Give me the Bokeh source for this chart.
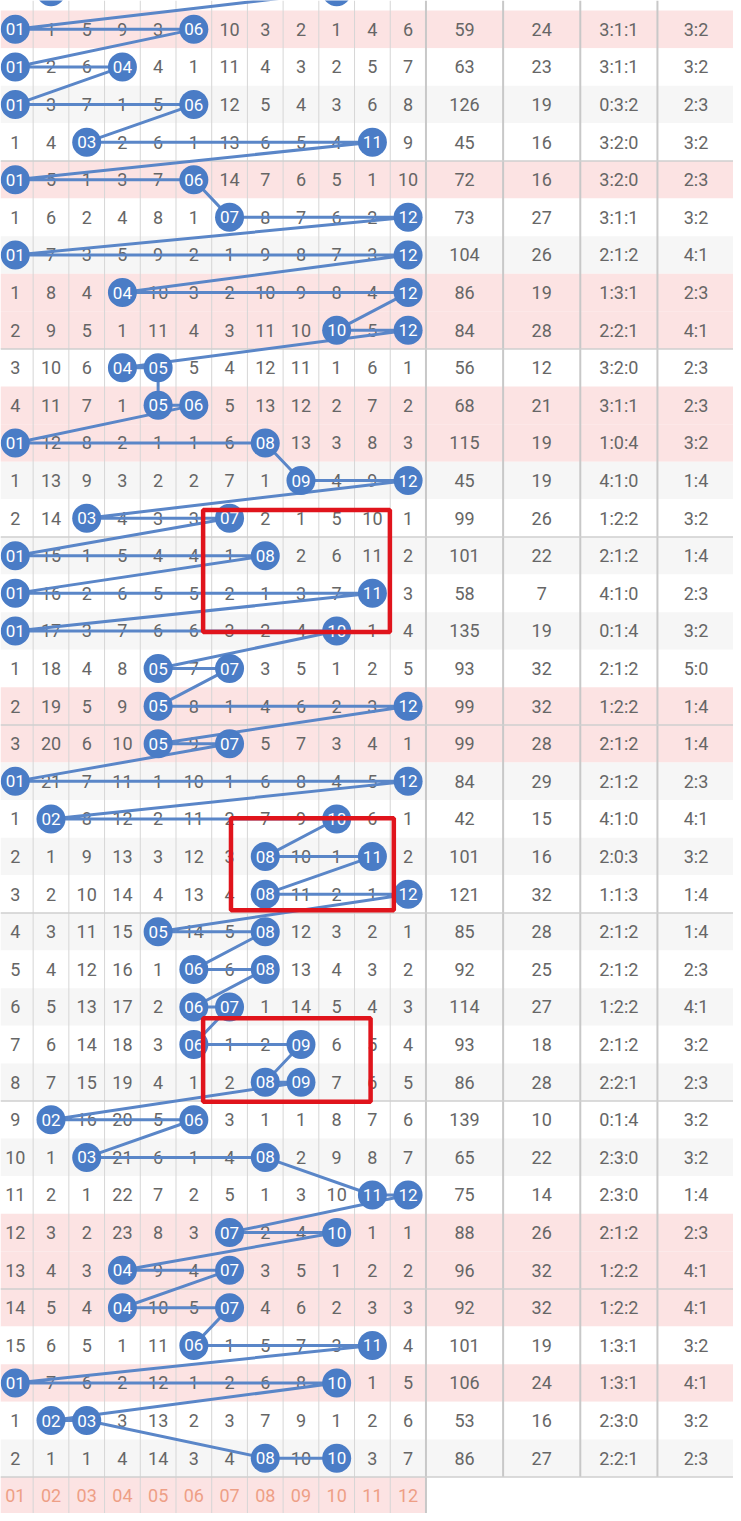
from bokeh.plotting import figure
from bokeh.models import Range1d
from bokeh.embed import file_html
from bokeh.resources import INLINE
from bokeh.core.properties import value

# ---------------- data ----------------
numbers = ["01", "02", "03", "04", "05", "06", "07", "08", "09", "10", "11", "12"]
# omission counts per row (0 = number drawn in that row)
omissions = [
    [0, 1, 5, 9, 3, 0, 10, 3, 2, 1, 4, 6],
    [0, 2, 6, 0, 4, 1, 11, 4, 3, 2, 5, 7],
    [0, 3, 7, 1, 5, 0, 12, 5, 4, 3, 6, 8],
    [1, 4, 0, 2, 6, 1, 13, 6, 5, 4, 0, 9],
    [0, 5, 1, 3, 7, 0, 14, 7, 6, 5, 1, 10],
    [1, 6, 2, 4, 8, 1, 0, 8, 7, 6, 2, 0],
    [0, 7, 3, 5, 9, 2, 1, 9, 8, 7, 3, 0],
    [1, 8, 4, 0, 10, 3, 2, 10, 9, 8, 4, 0],
    [2, 9, 5, 1, 11, 4, 3, 11, 10, 0, 5, 0],
    [3, 10, 6, 0, 0, 5, 4, 12, 11, 1, 6, 1],
    [4, 11, 7, 1, 0, 0, 5, 13, 12, 2, 7, 2],
    [0, 12, 8, 2, 1, 1, 6, 0, 13, 3, 8, 3],
    [1, 13, 9, 3, 2, 2, 7, 1, 0, 4, 9, 0],
    [2, 14, 0, 4, 3, 3, 0, 2, 1, 5, 10, 1],
    [0, 15, 1, 5, 4, 4, 1, 0, 2, 6, 11, 2],
    [0, 16, 2, 6, 5, 5, 2, 1, 3, 7, 0, 3],
    [0, 17, 3, 7, 6, 6, 3, 2, 4, 0, 1, 4],
    [1, 18, 4, 8, 0, 7, 0, 3, 5, 1, 2, 5],
    [2, 19, 5, 9, 0, 8, 1, 4, 6, 2, 3, 0],
    [3, 20, 6, 10, 0, 9, 0, 5, 7, 3, 4, 1],
    [0, 21, 7, 11, 1, 10, 1, 6, 8, 4, 5, 0],
    [1, 0, 8, 12, 2, 11, 2, 7, 9, 0, 6, 1],
    [2, 1, 9, 13, 3, 12, 3, 0, 10, 1, 0, 2],
    [3, 2, 10, 14, 4, 13, 4, 0, 11, 2, 1, 0],
    [4, 3, 11, 15, 0, 14, 5, 0, 12, 3, 2, 1],
    [5, 4, 12, 16, 1, 0, 6, 0, 13, 4, 3, 2],
    [6, 5, 13, 17, 2, 0, 0, 1, 14, 5, 4, 3],
    [7, 6, 14, 18, 3, 0, 1, 2, 0, 6, 5, 4],
    [8, 7, 15, 19, 4, 1, 2, 0, 0, 7, 6, 5],
    [9, 0, 16, 20, 5, 0, 3, 1, 1, 8, 7, 6],
    [10, 1, 0, 21, 6, 1, 4, 0, 2, 9, 8, 7],
    [11, 2, 1, 22, 7, 2, 5, 1, 3, 10, 0, 0],
    [12, 3, 2, 23, 8, 3, 0, 2, 4, 0, 1, 1],
    [13, 4, 3, 0, 9, 4, 0, 3, 5, 1, 2, 2],
    [14, 5, 4, 0, 10, 5, 0, 4, 6, 2, 3, 3],
    [15, 6, 5, 1, 11, 0, 1, 5, 7, 3, 0, 4],
    [0, 7, 6, 2, 12, 1, 2, 6, 8, 0, 1, 5],
    [1, 0, 0, 3, 13, 2, 3, 7, 9, 1, 2, 6],
    [2, 1, 1, 4, 14, 3, 4, 0, 10, 0, 3, 7],
]
prev_row_hits = [2, 10]   # partially visible row above the first full row
sums = [59, 63, 126, 45, 72, 73, 104, 86, 84, 56, 68, 115, 45, 99, 101, 58, 135, 93, 99, 99,
        84, 42, 101, 121, 85, 92, 114, 93, 86, 139, 65, 75, 88, 96, 92, 101, 106, 53, 86]
spans = [24, 23, 19, 16, 16, 27, 26, 19, 28, 12, 21, 19, 19, 26, 22, 7, 19, 32, 32, 28,
         29, 15, 16, 32, 28, 25, 27, 18, 28, 10, 22, 14, 26, 32, 32, 19, 24, 16, 27]
ratio_a = ["3:1:1", "3:1:1", "0:3:2", "3:2:0", "3:2:0", "3:1:1", "2:1:2", "1:3:1", "2:2:1", "3:2:0",
           "3:1:1", "1:0:4", "4:1:0", "1:2:2", "2:1:2", "4:1:0", "0:1:4", "2:1:2", "1:2:2", "2:1:2",
           "2:1:2", "4:1:0", "2:0:3", "1:1:3", "2:1:2", "2:1:2", "1:2:2", "2:1:2", "2:2:1", "0:1:4",
           "2:3:0", "2:3:0", "2:1:2", "1:2:2", "1:2:2", "1:3:1", "1:3:1", "2:3:0", "2:2:1"]
ratio_b = ["3:2", "3:2", "2:3", "3:2", "2:3", "3:2", "4:1", "2:3", "4:1", "2:3",
           "2:3", "3:2", "1:4", "3:2", "1:4", "2:3", "3:2", "5:0", "1:4", "1:4",
           "2:3", "4:1", "3:2", "1:4", "1:4", "2:3", "4:1", "3:2", "2:3", "3:2",
           "3:2", "1:4", "2:3", "4:1", "4:1", "3:2", "4:1", "3:2", "2:3"]
pink_rows = [1, 5, 8, 9, 11, 12, 19, 20, 33, 34, 35, 37]
# highlight boxes: (left col edge, right col edge, top row, bottom row) in cell units
boxes = [(5.76, 10.99, 13.78, 17.03), (6.54, 11.1, 21.98, 24.43), (5.76, 10.45, 27.3, 29.52)]

# ---------------- layout ----------------
W, H = 741, 1521
COL_X0, COL_W = -3.1, 36.1
ROW1_Y, ROW_H = 29.0, 37.8
SIDE_X0, SIDE_W = 430.1, 78.0
N = len(omissions)


def cx(k):  # k = 1..12
    return COL_X0 + COL_W * (k - 0.5)


def cu(u):  # column edge units
    return COL_X0 + COL_W * u


def ry(r):  # r = 0..N+1
    return ROW1_Y + (r - 1) * ROW_H


def sx(j):
    return SIDE_X0 + SIDE_W * (j + 0.5)


p = figure(width=733, height=1513, x_range=Range1d(0, W), y_range=Range1d(H, 0),
           output_backend="svg", toolbar_location=None, min_border=0)
p.axis.visible = False
p.grid.visible = False
p.outline_line_color = None
p.background_fill_color = "white"
p.border_fill_color = "white"

# row backgrounds
bl, br, bt, bb, bc = [], [], [], [], []
for r in range(1, N + 1):
    col = "#fce3e3" if r in pink_rows else ("#f6f6f6" if r % 2 == 1 else "#ffffff")
    bl.append(0); br.append(W); bt.append(ry(r) - ROW_H / 2); bb.append(ry(r) + ROW_H / 2); bc.append(col)
# footer
bl.append(0); br.append(SIDE_X0); bt.append(ry(N + 1) - ROW_H / 2); bb.append(H + 5); bc.append("#fce3e3")
p.quad(left=bl, right=br, top=bt, bottom=bb, fill_color=bc, line_color=None)

# vertical grid lines
p.segment(x0=[cu(u) for u in range(1, 12)], x1=[cu(u) for u in range(1, 12)],
          y0=[0] * 11, y1=[H] * 11, line_color="#d6d6d6", line_width=1)
p.segment(x0=[SIDE_X0], x1=[SIDE_X0], y0=[0], y1=[H], line_color="#c8c8c8", line_width=2)
sxs = [SIDE_X0 + SIDE_W * j for j in range(1, 4)]
p.segment(x0=sxs, x1=sxs, y0=[0] * 3, y1=[ry(N) + ROW_H / 2] * 3, line_color="#c8c8c8", line_width=2)
# group separators every 5 rows
hy = [ry(r) + ROW_H / 2 for r in range(4, N + 1, 5)]
p.segment(x0=[0] * len(hy), x1=[W] * len(hy), y0=hy, y1=hy, line_color="#cfcfcf", line_width=1.5)

# omission numbers
tx, ty, tt = [], [], []
for r, row in enumerate(omissions, start=1):
    for k, v in enumerate(row, start=1):
        if v > 0:
            tx.append(cx(k)); ty.append(ry(r)); tt.append(str(v))
p.text(x=tx, y=ty, text=tt, text_align="center", text_baseline="middle",
       text_font=value("Roboto"), text_font_size="18px", text_color="#666666")

# side columns
st_x, st_y, st_t = [], [], []
for r in range(1, N + 1):
    for j, arr in enumerate([sums, spans, ratio_a, ratio_b]):
        st_x.append(sx(j)); st_y.append(ry(r)); st_t.append(str(arr[r - 1]))
p.text(x=st_x, y=st_y, text=st_t, text_align="center", text_baseline="middle",
       text_font=value("Roboto"), text_font_size="18px", text_color="#666666")

# footer labels
p.text(x=[cx(k) for k in range(1, 13)], y=[ry(N + 1)] * 12, text=numbers,
       text_align="center", text_baseline="middle", text_font=value("Roboto"),
       text_font_size="18px", text_color="#ee9f86")

# ball path
px, py, pl = [], [], []
for k in prev_row_hits:
    px.append(cx(k)); py.append(ry(0)); pl.append(numbers[k - 1])
for r, row in enumerate(omissions, start=1):
    for k, v in enumerate(row, start=1):
        if v == 0:
            px.append(cx(k)); py.append(ry(r)); pl.append(numbers[k - 1])
p.line(px, py, line_color="#5a86c8", line_width=3)
p.scatter(px, py, size=29, fill_color="#4a7cc6", line_color=None)
p.text(x=px, y=py, text=pl, text_align="center", text_baseline="middle",
       text_font=value("Roboto"), text_font_size="17px", text_color="white")

# highlight boxes
p.quad(left=[cu(b[0]) for b in boxes], right=[cu(b[1]) for b in boxes],
       top=[ry(b[2]) for b in boxes], bottom=[ry(b[3]) for b in boxes],
       fill_color=None, line_color="#e0141c", line_width=4.5)

open("out.html", "w").write(file_html(p, INLINE))
